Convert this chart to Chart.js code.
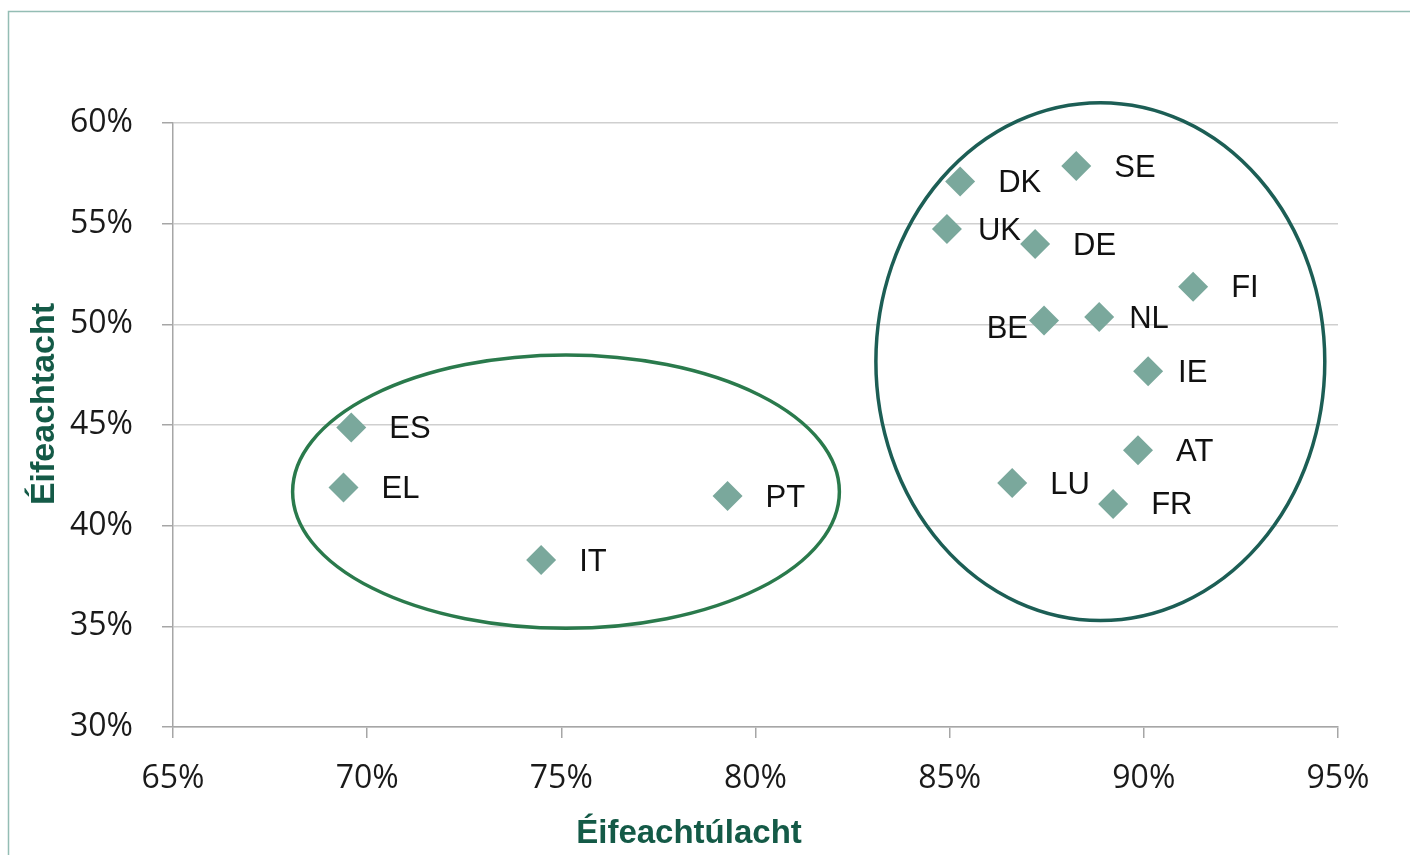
<!DOCTYPE html>
<html>
<head>
<meta charset="utf-8">
<script src="https://cdn.jsdelivr.net/npm/chart.js@4.4.1/dist/chart.umd.min.js"></script>
<style>
  html, body { margin: 0; padding: 0; background: #fff; }
  canvas { display: block; }
</style>
</head>
<body>
<canvas id="myChartScatter" width="1410" height="855"></canvas>
<script>
// values, in %
let countries = ['ES', 'EL', 'IT', 'PT', 'DK', 'SE', 'UK', 'DE', 'FI', 'BE', 'NL', 'IE', 'AT', 'LU', 'FR'];
let efficiency = [69.59, 69.39, 74.48, 79.28, 85.27, 88.26, 84.93, 87.2, 91.27, 87.43, 88.85, 90.11, 89.85, 86.61, 89.21];
let effectiveness = [44.88, 41.89, 38.29, 41.47, 57.09, 57.86, 54.73, 53.99, 51.87, 50.19, 50.36, 47.67, 43.75, 42.12, 41.08];
let xTicks = [65, 70, 75, 80, 85, 90, 95];
let yTicks = [30, 35, 40, 45, 50, 55, 60];
// circled groups: centre x, centre y, half width, half height (in %)
let groupSouth = [75.12, 41.69, 7.04, 6.79];
let groupNorth = [88.88, 48.15, 5.78, 12.86];

// label placement next to the point: dx, dy, align
let labelPos = {
  UK: [31, 2, 'left'],
  NL: [30, 2, 'left'],
  IE: [30, 2, 'left'],
  BE: [-16, 9, 'right']
};

let tickFont = { family: '"Open Sans", "Noto Sans", sans-serif', size: 32 };

const frame = {
  id: 'frame',
  beforeDraw(chart) {
    const ctx = chart.ctx;
    ctx.save();
    ctx.fillStyle = '#fff';
    ctx.fillRect(0, 0, chart.width, chart.height);
    ctx.strokeStyle = '#94bdb4';
    ctx.lineWidth = 1.5;
    ctx.beginPath();
    ctx.moveTo(8.5, chart.height);
    ctx.lineTo(8.5, 11.5);
    ctx.lineTo(chart.width, 11.5);
    ctx.stroke();
    ctx.restore();
  }
};

const groupRings = {
  id: 'groupRings',
  beforeDatasetsDraw(chart) {
    const ctx = chart.ctx;
    const x = chart.scales.x, y = chart.scales.y;
    [[groupSouth, '#2a7a4c'], [groupNorth, '#1c5e55']].forEach(([g, col]) => {
      const cx = x.getPixelForValue(g[0]);
      const cy = y.getPixelForValue(g[1]);
      const rx = Math.abs(x.getPixelForValue(g[0] + g[2]) - cx);
      const ry = Math.abs(y.getPixelForValue(g[1] + g[3]) - cy);
      ctx.save();
      ctx.beginPath();
      ctx.ellipse(cx, cy, rx, ry, 0, 0, Math.PI * 2);
      ctx.lineWidth = 3.5;
      ctx.strokeStyle = col;
      ctx.stroke();
      ctx.restore();
    });
  }
};

const pointLabels = {
  id: 'pointLabels',
  afterDatasetsDraw(chart) {
    const ctx = chart.ctx;
    const meta = chart.getDatasetMeta(0);
    ctx.save();
    ctx.font = '31px "Liberation Sans", Arial, sans-serif';
    ctx.fillStyle = '#111';
    ctx.textBaseline = 'middle';
    meta.data.forEach((pt, i) => {
      const p = labelPos[countries[i]] || [38, 2, 'left'];
      ctx.textAlign = p[2];
      ctx.fillText(countries[i], pt.x + p[0], pt.y + p[1]);
    });
    ctx.restore();
  }
};

const axisTitles = {
  id: 'axisTitles',
  afterDraw(chart) {
    const ctx = chart.ctx;
    ctx.save();
    ctx.font = 'bold 33px "Liberation Sans", Arial, sans-serif';
    ctx.fillStyle = '#145a47';
    ctx.textAlign = 'center';
    ctx.textBaseline = 'alphabetic';
    ctx.fillText('Éifeachtúlacht', 689, 843);
    ctx.font = 'bold 34px "Liberation Sans", Arial, sans-serif';
    ctx.translate(54, 404);
    ctx.rotate(-Math.PI / 2);
    ctx.fillText('Éifeachtacht', 0, 0);
    ctx.restore();
  }
};

let scatterChart = new Chart(document.getElementById('myChartScatter'), {
  type: 'scatter',
  data: {
    datasets: [{
      label: 'Éifeachtacht',
      data: countries.map((c, i) => ({ x: efficiency[i], y: effectiveness[i] })),
      pointStyle: 'rectRot',
      pointRadius: 15,
      pointHoverRadius: 15,
      pointBackgroundColor: '#7aa89c',
      pointBorderWidth: 0,
      borderWidth: 0
    }]
  },
  options: {
    responsive: false,
    devicePixelRatio: 1,
    animation: false,
    layout: { padding: { top: 123, right: 72, bottom: 0, left: 0 } },
    plugins: {
      legend: { display: false },
      tooltip: { enabled: false }
    },
    scales: {
      x: {
        type: 'linear',
        min: xTicks[0],
        max: xTicks[xTicks.length - 1],
        afterBuildTicks: s => { s.ticks = xTicks.map(v => ({ value: v })); },
        afterFit: s => { s.height = 128; },
        ticks: {
          font: tickFont,
          color: '#1a1a1a',
          padding: 22,
          callback: v => v + '%'
        },
        grid: {
          drawOnChartArea: false,
          drawTicks: true,
          tickLength: 11,
          tickColor: '#a6a6a6',
          lineWidth: 1.5
        },
        border: { display: true, color: '#a6a6a6', width: 1.5 }
      },
      y: {
        type: 'linear',
        min: yTicks[0],
        max: yTicks[yTicks.length - 1],
        afterBuildTicks: s => { s.ticks = yTicks.map(v => ({ value: v })); },
        afterFit: s => { s.width = 173; },
        ticks: {
          font: tickFont,
          color: '#1a1a1a',
          padding: 29,
          callback: v => v + '%'
        },
        grid: {
          color: '#cfcfcf',
          lineWidth: 1.5,
          tickLength: 11,
          tickColor: '#a6a6a6'
        },
        border: { display: true, color: '#a6a6a6', width: 1.5 }
      }
    }
  },
  plugins: [frame, groupRings, pointLabels, axisTitles]
});
</script>
</body>
</html>
